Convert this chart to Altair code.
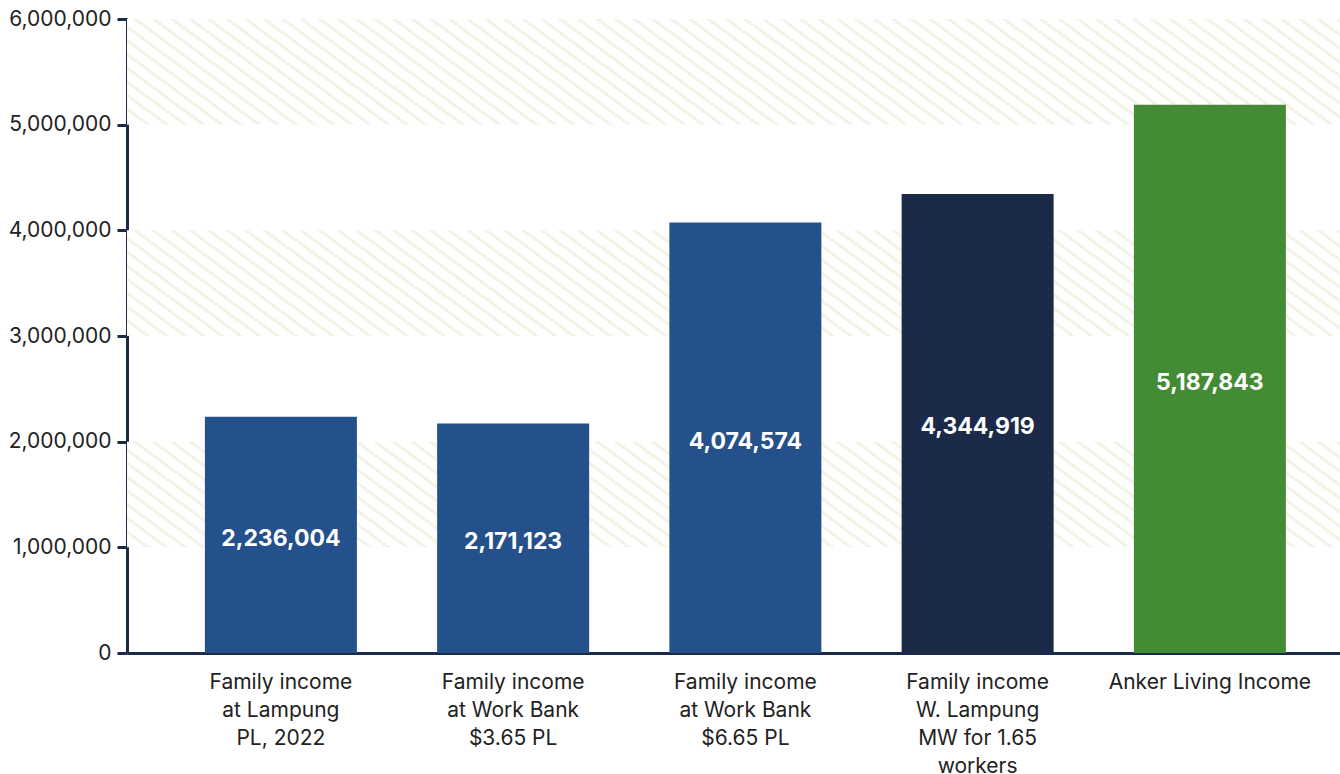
import altair as alt
import pandas as pd
import math

# ---- data ----
categories = [
    "Family income\nat Lampung\nPL, 2022",
    "Family income\nat Work Bank\n$3.65 PL",
    "Family income\nat Work Bank\n$6.65 PL",
    "Family income\nW. Lampung\nMW for 1.65\nworkers",
    "Anker Living Income",
]
values = [2236004, 2171123, 4074574, 4344919, 5187843]
bar_colors = ["#24508b", "#24508b", "#24508b", "#1b2a48", "#448b35"]

band_start = [1000000, 3000000, 5000000]
band_end = [2000000, 4000000, 6000000]

y_ticks = [0, 1000000, 2000000, 3000000, 4000000, 5000000, 6000000]

# ---- layout ----
W, H = 1213, 634
NAVY = "#1b2a48"
TEXT = "#222222"
FONT = "Inter"

df = pd.DataFrame({"cat": categories, "value": values, "color": bar_colors})
bands = pd.DataFrame({"y0": band_start, "y1": band_end})

# hatch gradient (diagonal stripes) for the bands
bandH = H / 6.0
s = 0.74           # stripe slope (pixels)
period = 11.0      # perpendicular stripe period in px
stripe = 3.2       # stripe thickness in px
hatch_col = "#f5f2e7"
bg = "#ffffff"
nx, ny = s * W, -bandH
n2 = nx * nx + ny * ny
k = (s * W + bandH) / n2
x2g, y2g = k * nx, 1 + k * ny
D = (s * W + bandH) / math.sqrt(1 + s * s)
stops = []
t = 0.0
while t < 1.0:
    a = t
    b = min(1.0, t + stripe / D)
    stops += [
        {"offset": round(a, 6), "color": bg},
        {"offset": round(a, 6), "color": hatch_col},
        {"offset": round(b, 6), "color": hatch_col},
        {"offset": round(b, 6), "color": bg},
    ]
    t += period / D
grad = alt.LinearGradient(
    gradient="linear", x1=0, y1=1, x2=x2g, y2=y2g, stops=stops
)

yscale = alt.Scale(domain=[0, 6000000], nice=False, zero=True)
xscale = alt.Scale(paddingInner=0.3455, paddingOuter=0.2842, align=0.59)

y_axis = alt.Axis(title=None, values=y_ticks, grid=False)
x_axis = alt.Axis(title=None, labelAngle=0, ticks=False)

hatch = alt.Chart(bands).mark_rect(fill=grad).encode(
    x=alt.value(0),
    x2=alt.value(W),
    y=alt.Y("y0:Q", scale=yscale, axis=y_axis),
    y2="y1:Q",
)

bars = alt.Chart(df).mark_bar(size=152).encode(
    x=alt.X("cat:N", sort=categories, scale=xscale, axis=x_axis),
    y=alt.Y("value:Q", scale=yscale, axis=y_axis),
    color=alt.Color("color:N", scale=None),
)

labels = alt.Chart(df).transform_calculate(
    mid="datum.value / 2"
).mark_text(
    color="white", font=FONT, fontSize=23, fontWeight="bold",
    baseline="middle", dy=4
).encode(
    x=alt.X("cat:N", sort=categories, scale=xscale, axis=x_axis),
    y=alt.Y("mid:Q", scale=yscale, axis=y_axis),
    text=alt.Text("value:Q", format=","),
)

chart = alt.layer(hatch, bars, labels).properties(
    width=W,
    height=H,
    autosize=alt.AutoSizeParams(type="none"),
    padding={"left": 127, "top": 19, "right": 0, "bottom": 121},
    background="white",
).configure_view(stroke=None).configure_axisY(
    labelExpr="format(datum.value, ',')",
    labelFont=FONT,
    labelFontSize=21,
    labelColor=TEXT,
    labelPadding=6,
    tickSize=10,
    tickWidth=3,
    tickColor=NAVY,
    domainColor=NAVY,
    domainWidth=3,
    grid=False,
).configure_axisX(
    labelExpr="split(datum.label, '\\n')",
    labelFont=FONT,
    labelFontSize=21,
    labelColor=TEXT,
    labelLineHeight=28,
    labelPadding=18,
    labelLimit=400,
    domainColor=NAVY,
    domainWidth=3,
    ticks=False,
)

chart.save("out.html", embed_options={"renderer": "svg", "actions": False})
